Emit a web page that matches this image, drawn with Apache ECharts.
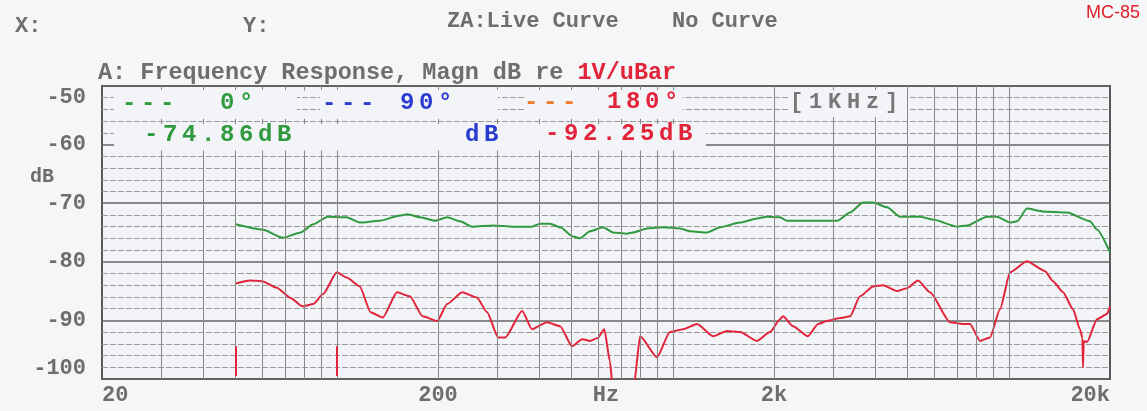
<!DOCTYPE html>
<html>
<head>
<meta charset="utf-8">
<script src="https://cdn.jsdelivr.net/npm/echarts@6/dist/echarts.min.js"></script>
<style>
html,body{margin:0;padding:0;background:#f5f6f8;}
#chart{width:1147px;height:411px;}
</style>
</head>
<body>
<div id="chart"></div>
<script>
// ---------- data ----------
const freq0 = [50,60,69,78,85,94,107,117,134,154,162,177,196,213,233,253,292,334,381,402,431,462,505,529,567,620,664,730,761,838,935,1050,1125,1264,1382,1585,1780,1906,2084,2186,3080,3368,3682,3943,4339,4743,5441,5949,7011,7506,8610,9223,10083,10576,11324,12636,14894,17442,18296,20000];
const db0 = [-73.6,-74.5,-75.9,-75.0,-73.6,-72.3,-72.4,-73.3,-73.0,-72.1,-71.9,-72.4,-73.0,-72.4,-73.1,-74.0,-73.8,-74.0,-74.0,-73.5,-73.5,-74.1,-75.7,-76.0,-74.8,-74.1,-75.0,-75.2,-75.0,-74.3,-74.1,-74.3,-74.8,-75.0,-74.1,-73.3,-72.6,-72.3,-72.4,-73.0,-73.0,-71.6,-69.9,-69.9,-70.7,-72.3,-72.3,-72.8,-74.0,-73.8,-72.3,-72.3,-73.3,-73.1,-70.9,-71.4,-71.6,-73.1,-74.5,-78.4];

const freq180 = [50,55,60,66,73,79,85,91,100,107,117,126,137,151,165,180,199,213,236,261,280,302,317,356,381,422,462,501,537,567,598,625,650,662,700,740,766,799,897,980,1072,1180,1317,1449,1585,1780,1946,2084,2128,2279,2524,2704,2876,3145,3368,3606,3943,4222,4645,4977,5366,5824,6683,7303,7662,8206,8790,9414,10083,11324,12808,13532,14492,15522,16284,16550,16624,16700,17084,18296,19594,20000];
const db180 = [-83.7,-83.2,-83.3,-84.4,-86.2,-87.6,-87.2,-85.5,-81.8,-82.7,-84.2,-88.6,-89.5,-85.2,-85.9,-89.3,-90.1,-87.2,-85.2,-86.1,-88.6,-92.9,-92.9,-88.4,-91.5,-90.3,-91.0,-94.4,-93.2,-93.5,-93.0,-91.5,-97.0,-101.5,-106,-106,-101,-92.7,-96.3,-92.0,-91.5,-90.6,-92.7,-91.8,-92.0,-93.5,-92.0,-89.8,-89.3,-91.0,-92.7,-90.6,-90.1,-89.6,-89.3,-85.9,-84.2,-84.0,-85.0,-84.5,-83.2,-85.2,-90.3,-90.6,-90.6,-93.5,-92.9,-88.1,-81.8,-79.9,-81.6,-83.3,-85.2,-88.1,-91.5,-93.0,-98.0,-93.5,-93.7,-89.8,-88.9,-87.6];

const markerFreqs = [50, 100];
const markerRange = [-94.4, -99.5];

const xTickValues = [20, 200, 2000, 20000];
const gridFreqs = [30,40,50,60,70,80,90,100,200,300,400,500,600,700,800,900,1000,2000,3000,4000,5000,6000,7000,8000,9000,10000];

// ---------- helpers ----------
const MONO = 'Liberation Mono';
const GRAY = '#6e6e6e';
const GREEN = '#2f9a3e';
const BLUE = '#2a3bd0';
const RED = '#e2243a';
const ORANGE = '#f07a2a';
const PLOTBG = '#f3f4f8';

function zip(f, d) { return f.map((v, i) => [v, d[i]]); }

const gridLines = [];
gridFreqs.forEach(f => {
  if (f >= 2000) {
    gridLines.push([{coord:[f,-50]},{coord:[f,-100]}]);
  } else {
    gridLines.push([{coord:[f,-61]},{coord:[f,-100]}]);
    gridLines.push([{coord:[f,-50]},{coord:[f,-50.8]}]);
    gridLines.push([{coord:[f,-55.6]},{coord:[f,-56.5]}]);
  }
});
const markerLines = markerFreqs.map(f => [{coord:[f, markerRange[0]]},{coord:[f, markerRange[1]]}]);

let richIdx = 0;
function spacedText(str, color, left, cy, pitch, size) {
  const key = 's' + (richIdx++);
  const rich = {};
  rich[key] = {width: pitch, align:'center', fill: color, fontFamily: MONO, fontWeight:'bold', fontSize: size};
  const text = str.split('').map(c => '{' + key + '|' + c + '}').join('');
  return {type:'text', left: left, top: cy - size/2 - 2, z: 110, silent: true,
    style:{text: text, rich: rich, fill: color, font: 'bold ' + size + 'px "' + MONO + '"'}};
}
function rect(x1, y1, x2, y2) {
  return {type:'rect', z: 100, silent: true, shape:{x:x1, y:y1, width:x2-x1, height:y2-y1}, style:{fill: PLOTBG}};
}
function plainText(str, left, cy, size, color, extra) {
  return Object.assign({type:'text', left:left, top: cy - size/2 - 1, z: 110, silent:true,
    style:{text:str, fill:color, font:'bold ' + size + 'px "' + MONO + '"'}}, extra || {});
}

const chart = echarts.init(document.getElementById('chart'), null, {renderer:'canvas'});
const labelStyle = {color: GRAY, fontFamily: MONO, fontWeight:'bold', fontSize: 22};

chart.setOption({
  backgroundColor: '#f5f6f8',
  animation: false,
  grid: {left:102, right:37, top:86, bottom:32, outerBoundsMode:'none', containLabel:false,
    show:true, backgroundColor: PLOTBG, borderColor:'#5a5a5a', borderWidth:2},
  xAxis: {
    type:'log', logBase:10, min:20, max:20000,
    axisLine:{show:false}, axisTick:{show:false}, splitLine:{show:false}, minorSplitLine:{show:false},
    axisLabel: Object.assign({customValues: xTickValues, margin:5, alignMinLabel:'left', alignMaxLabel:'right',
      formatter: v => v >= 1000 ? (v/1000) + 'k' : String(v)}, labelStyle),
    name:'Hz', nameLocation:'middle', nameGap:5, nameMoveOverlap:false,
    nameTextStyle: Object.assign({verticalAlign:'top'}, labelStyle)
  },
  yAxis: {
    type:'value', min:-100, max:-50, interval:10,
    axisLine:{show:false}, axisTick:{show:false},
    axisLabel: Object.assign({margin:16, verticalAlignMinLabel:'bottom', verticalAlignMaxLabel:'top'}, labelStyle),
    splitLine:{show:true, lineStyle:{color:'#666', width:1.5}},
    minorTick:{show:false, splitNumber:5},
    minorSplitLine:{show:true, lineStyle:{color:'#9a9a9a', width:1, type:[6,2]}}
  },
  series: [
    {type:'line', name:'grid', data:[], z:1, silent:true,
     markLine:{silent:true, symbol:['none','none'], label:{show:false}, animation:false,
       lineStyle:{color:'#888', width:1, type:'solid'}, emphasis:{disabled:true}, data: gridLines}},
    {type:'line', name:'0°', data: zip(freq0, db0), showSymbol:false, z:3, smooth:0.2, smoothMonotone:'x',
     lineStyle:{color: GREEN, width:2}, itemStyle:{color: GREEN}},
    {type:'line', name:'180°', data: zip(freq180, db180), showSymbol:false, z:4, smooth:0.2, smoothMonotone:'x',
     lineStyle:{color: RED, width:2}, itemStyle:{color: RED},
     markLine:{silent:true, symbol:['none','none'], label:{show:false}, animation:false,
       lineStyle:{color: RED, width:2, type:'solid'}, emphasis:{disabled:true}, data: markerLines}}
  ],
  graphic: [
    // header
    plainText('X:', 15, 27, 22, GRAY),
    plainText('Y:', 243, 27, 22, GRAY),
    plainText('ZA:Live Curve', 447, 22, 22, GRAY),
    plainText('No Curve', 672, 22, 22, GRAY),
    {type:'text', right: 7, top: 4, z:110, silent:true, style:{text:'MC-85', fill:'#e0202a', font:'18px "Liberation Sans"'}},
    {type:'text', left: 98, top: 61, z:110, silent:true, style:{
      text:'{g|A: Frequency Response, Magn dB re }{r|1V/uBar}',
      rich:{ g:{fill: GRAY, fontFamily: MONO, fontWeight:'bold', fontSize:23.5},
             r:{fill: RED, fontFamily: MONO, fontWeight:'bold', fontSize:23.5} }}},
    plainText('dB', 30, 178, 20, GRAY),
    // legend backgrounds
    rect(114, 90, 297, 117),
    rect(320, 90, 498, 117),
    rect(524, 90, 683, 117),
    rect(788, 90, 907, 117),
    rect(114, 126, 706, 150),
    // legend texts
    spacedText('---', GREEN, 122, 106, 19, 24),
    spacedText('0°', GREEN, 220, 105, 19, 24),
    spacedText('---', BLUE, 322, 106, 19, 24),
    spacedText('90°', BLUE, 400, 105, 19, 24),
    spacedText('---', ORANGE, 524, 105, 19, 24),
    spacedText('180°', RED, 607, 104, 19, 24),
    spacedText('[1KHz]', '#777', 790, 104, 19, 22),
    spacedText('-74.86dB', GREEN, 144, 137, 19, 24),
    spacedText('dB', BLUE, 465, 137, 19, 24),
    spacedText('-92.25dB', RED, 545, 136, 19, 24)
  ]
});
</script>
</body>
</html>
